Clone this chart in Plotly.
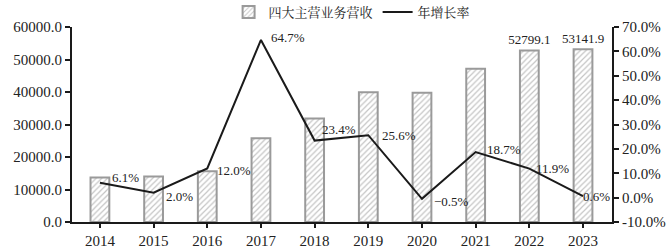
import plotly.graph_objects as go

years = ["2014", "2015", "2016", "2017", "2018", "2019", "2020", "2021", "2022", "2023"]
revenue = [13700, 13970, 15650, 25780, 31810, 39950, 39750, 47180, 52799.1, 53141.9]
growth = [6.1, 2.0, 12.0, 64.7, 23.4, 25.6, -0.5, 18.7, 11.9, 0.6]
growth_labels = ["6.1%", "2.0%", "12.0%", "64.7%", "23.4%", "25.6%", "−0.5%", "18.7%", "11.9%", "0.6%"]
label_dx = [10, 10, 8, 8, 5, 12, 10, 9, 5, -2]
label_dy = [5, -4, -2, 2, 11, 0, -3, 3, 0, 0]
bar_labels = ["", "", "", "", "", "", "", "", "52799.1", "53141.9"]
left_ticks = [0, 10000, 20000, 30000, 40000, 50000, 60000]
right_ticks = [-10, 0, 10, 20, 30, 40, 50, 60, 70]
right_ticktext = ["-10.0%", "0.0%", "10.0%", "20.0%", "30.0%", "40.0%", "50.0%", "60.0%", "70.0%"]

serif = "Liberation Serif, Times New Roman, serif"

fig = go.Figure()
fig.add_trace(go.Bar(
    x=years, y=revenue, name="四大主营业务营收",
    width=0.35,
    marker=dict(color="white", line=dict(color="#9a9a9a", width=2),
                pattern=dict(shape="/", fgcolor="#8a8a8a", bgcolor="white", size=4, solidity=0.3)),
    text=bar_labels, textposition="outside", cliponaxis=False, constraintext="none",
    textfont=dict(family=serif, size=13, color="#222"),
))
fig.add_trace(go.Scatter(
    x=years, y=growth, name="年增长率", yaxis="y2", mode="lines",
    line=dict(color="#1a1a1a", width=2),
))

for i, (g, lab, dx, dy) in enumerate(zip(growth, growth_labels, label_dx, label_dy)):
    fig.add_annotation(x=i, y=g, xref="x", yref="y2", text=lab, showarrow=False,
                       xanchor="left", yanchor="middle", xshift=dx, yshift=dy,
                       font=dict(family=serif, size=13, color="#222"))

axis_common = dict(showline=True, linecolor="#1a1a1a", linewidth=2, ticks="outside",
                   tickcolor="#1a1a1a", tickwidth=2, ticklen=5, showgrid=False, zeroline=False)

fig.update_layout(
    width=666, height=249,
    margin=dict(l=72, r=54, t=27, b=27, autoexpand=False),
    paper_bgcolor="white", plot_bgcolor="white",
    font=dict(family=serif, color="#222"),
    showlegend=True,
    legend=dict(orientation="h", x=0.29, y=1.0, xanchor="left", yanchor="bottom",
                font=dict(family="Noto Serif CJK SC, Noto Sans CJK SC, serif", size=13, color="#222"),
                bgcolor="rgba(0,0,0,0)", itemwidth=30),
    xaxis=dict(axis_common, type="category", range=[-0.52, 9.54], ticklen=4,
               tickfont=dict(family=serif, size=15, color="#222")),
    yaxis=dict(axis_common, range=[0, 60000], tickvals=left_ticks, tickformat=".1f",
               tickfont=dict(family=serif, size=15, color="#222")),
    yaxis2=dict(axis_common, overlaying="y", side="right", range=[-10, 70],
                tickvals=right_ticks, ticktext=right_ticktext,
                tickfont=dict(family=serif, size=15, color="#222")),
)

fig.write_html("out.html")
